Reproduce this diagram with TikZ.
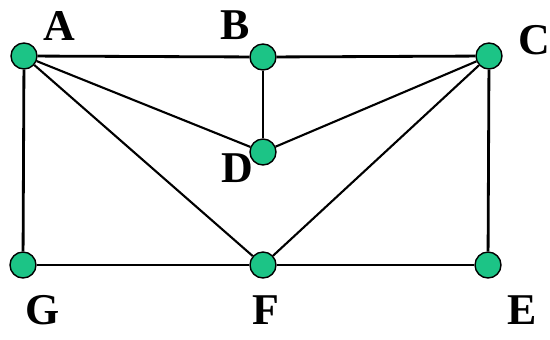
\documentclass[tikz,border=0pt]{standalone}
\usepackage{fontspec}
\setmainfont{Liberation Serif}
\usepackage{xcolor}
\usepackage{tikz}
\definecolor{vertexcolor}{RGB}{28,196,134}

\tikzset{
    vertex/.style={circle, draw=black, line width=0.8pt, fill=vertexcolor, minimum size=0.52cm, inner sep=0pt},
    lbl/.style={font=\fontsize{25}{25}\selectfont\bfseries, inner sep=0pt},
    edge/.style={line width=1.6pt},
    diag/.style={line width=1.2pt}
}

\begin{document}
\begin{tikzpicture}[x=0.02cm, y=-0.02cm]
    \useasboundingbox (0, 0) rectangle (550, 339);

    % Vertices
    \node[vertex] (A) at (24, 56) {};
    \node[vertex] (B) at (263, 57) {};
    \node[vertex] (C) at (489, 56) {};
    \node[vertex] (D) at (263, 152) {};
    \node[vertex] (G) at (23, 265) {};
    \node[vertex] (F) at (263, 265) {};
    \node[vertex] (E) at (488, 265) {};

    % Edges
    \draw[edge] (A) -- (B);
    \draw[edge] (B) -- (C);
    \draw[edge] (A) -- (G);
    \draw[edge] (B) -- (D);
    \draw[edge] (C) -- (E);
    \draw[edge] (G) -- (F);
    \draw[edge] (F) -- (E);
    \draw[diag] (A) -- (D);
    \draw[diag] (D) -- (C);
    \draw[diag] (A) -- (F);
    \draw[diag] (C) -- (F);

    % Labels
    \node[lbl] (labA) at (59, 26) {A};
    \node[lbl] (labB) at (235, 25) {B};
    \node[lbl] (labC) at (534, 40) {C};
    \node[lbl] (labD) at (237, 168) {D};
    \node[lbl] (labG) at (43, 310) {G};
    \node[lbl] (labF) at (266, 310) {F};
    \node[lbl] (labE) at (522, 310) {E};
\end{tikzpicture}
\end{document}
